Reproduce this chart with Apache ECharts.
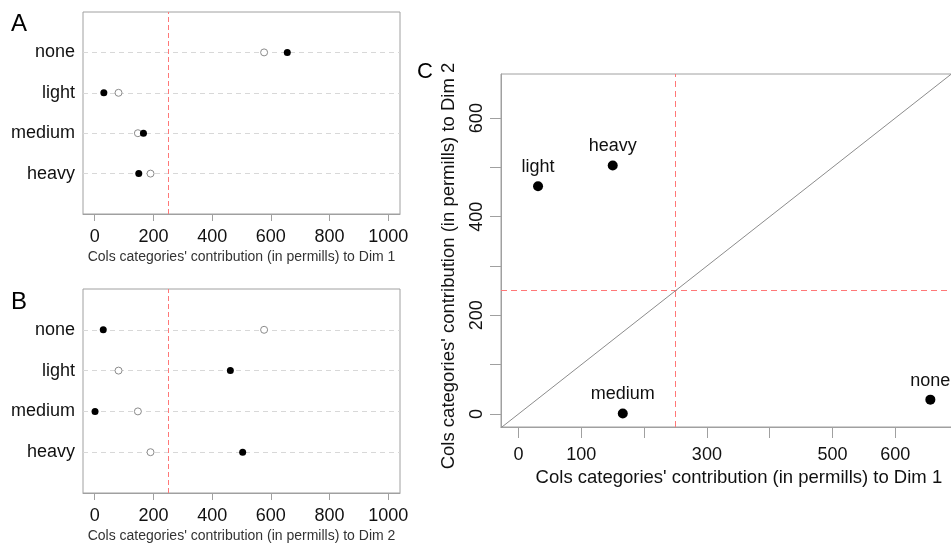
<!DOCTYPE html>
<html>
<head>
<meta charset="utf-8">
<script src="https://cdn.jsdelivr.net/npm/echarts@6/dist/echarts.min.js"></script>
<style>
  html, body { margin: 0; padding: 0; background: #fff; }
  #chart { width: 951px; height: 543px; }
</style>
</head>
<body>
<div id="chart"></div>
<script>
// categories, bottom to top in panels A and B
const categories = ['heavy', 'medium', 'light', 'none'];
// open grey circles: category weight (permills), same in A and B
const weights = [190, 147, 81, 577];
// filled black points: contribution to Dim 1 and Dim 2 (permills)
const dim1Contrib = [150, 166, 31, 656];
const dim2Contrib = [504, 1, 462, 29];
const threshold = 250;

const dotTicks = [0, 200, 400, 600, 800, 1000];
const cTicks = [0, 100, 200, 300, 400, 500, 600];
const cXLabels = [0, 100, 300, 500, 600];
const cYLabels = [0, 200, 400, 600];
const diagonal = [-40, 740];

const FONT = '"Liberation Sans", Arial, Helvetica, sans-serif';
const BOX = '#a0a0a0';
const RED = '#ff7878';
const plain = (v) => String(v);

function dotXAxis(gridIndex, title) {
  return {
    type: 'value', gridIndex, min: -40, max: 1040,
    name: title, nameLocation: 'middle', nameGap: 36,
    nameTextStyle: { fontFamily: FONT, fontSize: 14, color: '#333' },
    axisLine: { show: true, onZero: false, lineStyle: { color: BOX } },
    splitLine: { show: false },
    axisTick: { show: true, inside: false, length: 7, customValues: dotTicks, lineStyle: { color: BOX } },
    axisLabel: { customValues: dotTicks, formatter: plain, margin: 14, fontFamily: FONT, fontSize: 18, color: '#111' }
  };
}

function dotYAxis(gridIndex) {
  return {
    type: 'value', gridIndex, min: 0, max: 5,
    axisLine: { show: false, onZero: false }, axisTick: { show: false }, splitLine: { show: false },
    axisLabel: {
      customValues: [1, 2, 3, 4], margin: 8,
      fontFamily: FONT, fontSize: 18, color: '#111',
      formatter: (v) => categories[v - 1] || ''
    }
  };
}

function dotSeries(axisIndex, contrib) {
  return [
    {
      type: 'scatter', xAxisIndex: axisIndex, yAxisIndex: axisIndex,
      symbol: 'circle', symbolSize: 7, z: 3,
      itemStyle: { color: '#fff', borderColor: '#8a8a8a', borderWidth: 1, opacity: 1 },
      data: categories.map((c, i) => [weights[i], i + 1]),
      markLine: {
        silent: true, symbol: 'none', label: { show: false }, z: 1,
        data: [
          ...categories.map((c, i) => ({ yAxis: i + 1, lineStyle: { color: '#d8d8d8', type: [5, 4], width: 1 } })),
          { xAxis: threshold, lineStyle: { color: RED, type: [5, 3], width: 1 } }
        ]
      }
    },
    {
      type: 'scatter', xAxisIndex: axisIndex, yAxisIndex: axisIndex,
      symbol: 'circle', symbolSize: 7, z: 4,
      itemStyle: { color: '#000', opacity: 1 },
      data: categories.map((c, i) => [contrib[i], i + 1])
    }
  ];
}

const chart = echarts.init(document.getElementById('chart'));

chart.setOption({
  animation: false,
  textStyle: { fontFamily: FONT },
  grid: [
    { left: 83, top: 12, width: 317, height: 202, outerBoundsMode: 'none', show: true, borderColor: BOX, borderWidth: 1 },
    { left: 83, top: 289, width: 317, height: 204, outerBoundsMode: 'none', show: true, borderColor: BOX, borderWidth: 1 },
    // panel C runs past the right edge of the picture, as in the source figure
    { left: 501, top: 74, width: 475.8, height: 353, outerBoundsMode: 'none', show: true, borderColor: BOX, borderWidth: 1 }
  ],
  xAxis: [
    dotXAxis(0, "Cols categories' contribution (in permills) to Dim 1"),
    dotXAxis(1, "Cols categories' contribution (in permills) to Dim 2"),
    {
      type: 'value', gridIndex: 2, min: -28, max: 730,
      name: "Cols categories' contribution (in permills) to Dim 1",
      nameLocation: 'middle', nameGap: 40,
      nameTextStyle: { fontFamily: FONT, fontSize: 18.5, color: '#111' },
      axisLine: { show: true, onZero: false, lineStyle: { color: BOX } }, splitLine: { show: false },
      axisTick: { show: true, inside: false, length: 11, customValues: cTicks, lineStyle: { color: BOX } },
      axisLabel: { customValues: cXLabels, formatter: plain, margin: 19, fontFamily: FONT, fontSize: 18, color: '#111' }
    }
  ],
  yAxis: [
    dotYAxis(0),
    dotYAxis(1),
    {
      type: 'value', gridIndex: 2, min: -26.5, max: 689.5,
      axisLine: { show: true, onZero: false, lineStyle: { color: BOX } }, splitLine: { show: false },
      axisTick: { show: true, inside: false, length: 11, customValues: cTicks, lineStyle: { color: BOX } },
      axisLabel: { customValues: cYLabels, formatter: plain, rotate: 90, margin: 15, fontFamily: FONT, fontSize: 18, color: '#111' }
    }
  ],
  series: [
    ...dotSeries(0, dim1Contrib),
    ...dotSeries(1, dim2Contrib),
    {
      type: 'line', xAxisIndex: 2, yAxisIndex: 2, symbol: 'none', clip: true, silent: true, z: 2,
      lineStyle: { color: '#8c8c8c', width: 1 },
      data: [[diagonal[0], diagonal[0]], [diagonal[1], diagonal[1]]]
    },
    {
      type: 'scatter', xAxisIndex: 2, yAxisIndex: 2, symbol: 'circle', symbolSize: 10, z: 4,
      itemStyle: { color: '#000', opacity: 1 },
      label: {
        show: true, position: 'top', distance: 5, formatter: '{b}',
        fontFamily: FONT, fontSize: 18, color: '#111'
      },
      data: categories.map((c, i) => ({ name: c, value: [dim1Contrib[i], dim2Contrib[i]] })),
      markLine: {
        silent: true, symbol: 'none', label: { show: false }, z: 1,
        data: [
          { xAxis: threshold, lineStyle: { color: RED, type: [6, 4], width: 1, opacity: 1 } },
          { yAxis: threshold, lineStyle: { color: RED, type: [6, 4], width: 1, opacity: 1 } }
        ]
      }
    }
  ],
  graphic: [
    { type: 'text', left: 11, top: 12, style: { text: 'A', font: '24px ' + FONT, fill: '#000' } },
    { type: 'text', left: 11, top: 290, style: { text: 'B', font: '24px ' + FONT, fill: '#000' } },
    { type: 'text', left: 417, top: 61, style: { text: 'C', font: '22px ' + FONT, fill: '#000' } },
    {
      type: 'text', x: 449, y: 266, rotation: Math.PI / 2,
      style: {
        text: "Cols categories' contribution (in permills) to Dim 2",
        font: '18.5px ' + FONT, fill: '#111', align: 'center', verticalAlign: 'middle'
      }
    }
  ]
});
</script>
</body>
</html>
